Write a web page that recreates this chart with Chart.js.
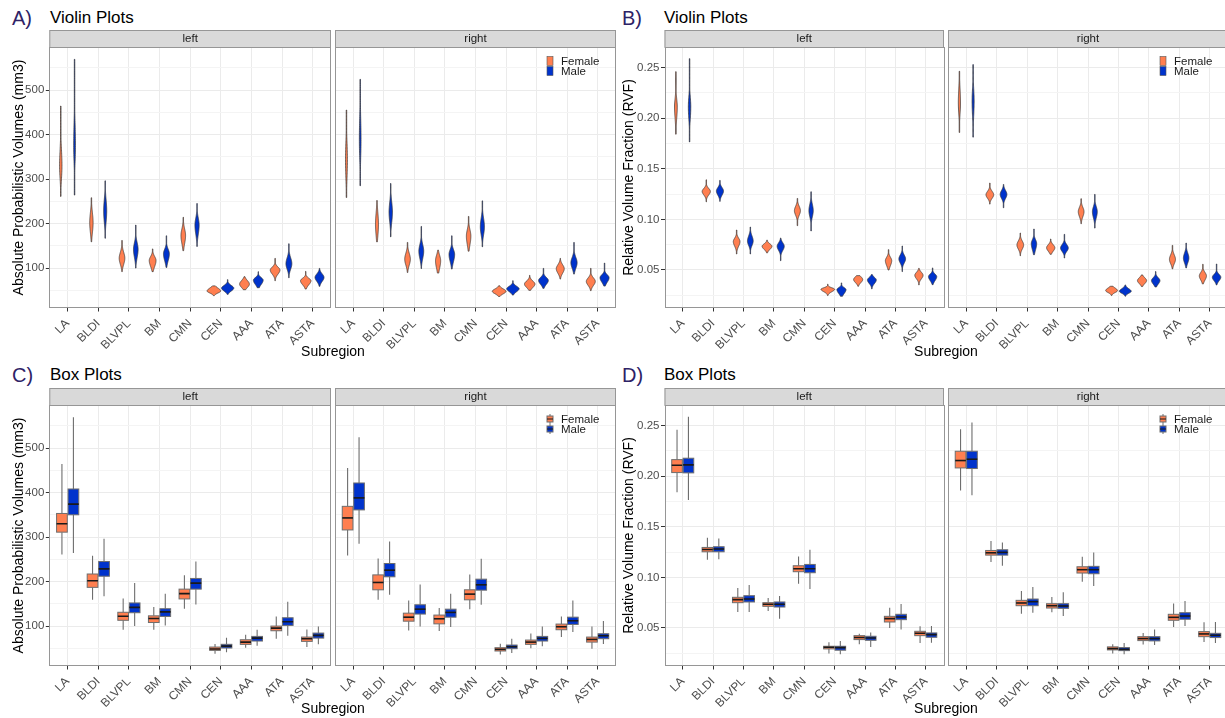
<!DOCTYPE html>
<html>
<head>
<meta charset="utf-8">
<script src="https://cdn.jsdelivr.net/npm/chart.js@4.4.1/dist/chart.umd.min.js"></script>
<style>
  html, body { margin: 0; padding: 0; background: #fff; overflow: hidden; }
  #wrap { position: relative; width: 1225px; height: 718px; overflow: hidden; font-family: 'Liberation Sans', Arial, Helvetica, sans-serif; }
  #wrap canvas { position: absolute; }
  .tag { position: absolute; font-size: 20px; color: #2e2266; line-height: 20px; }
  .ptitle { position: absolute; font-size: 17px; color: #000; line-height: 20px; }
  .xtitle { position: absolute; font-size: 14px; color: #000; line-height: 16px; width: 200px; text-align: center; }
</style>
</head>
<body>
<div id="wrap">
  <div class="tag" style="left:12px;top:8px">A)</div>
  <div class="ptitle" style="left:50px;top:8px">Violin Plots</div>
  <div class="tag" style="left:622px;top:8px">B)</div>
  <div class="ptitle" style="left:664px;top:8px">Violin Plots</div>
  <div class="tag" style="left:12px;top:365px">C)</div>
  <div class="ptitle" style="left:50px;top:365px">Box Plots</div>
  <div class="tag" style="left:622px;top:365px">D)</div>
  <div class="ptitle" style="left:664px;top:365px">Box Plots</div>

  <canvas id="aL"></canvas><canvas id="aR"></canvas>
  <canvas id="bL"></canvas><canvas id="bR"></canvas>
  <canvas id="cL"></canvas><canvas id="cR"></canvas>
  <canvas id="dL"></canvas><canvas id="dR"></canvas>

  <div class="xtitle" style="left:233px;top:343px">Subregion</div>
  <div class="xtitle" style="left:846px;top:343px">Subregion</div>
  <div class="xtitle" style="left:233px;top:700px">Subregion</div>
  <div class="xtitle" style="left:846px;top:700px">Subregion</div>
</div>
<script>
// ---- data ----
const subregions = ['LA', 'BLDI', 'BLVPL', 'BM', 'CMN', 'CEN', 'AAA', 'ATA', 'ASTA'];
const sexes = ['Female', 'Male'];

// one row per subregion: [min, q1, median, q3, max]
const absLeftFemale = [
  [261, 311, 330, 353, 464], [159, 187, 202, 217, 258], [92, 113, 122, 131, 162],
  [92, 108, 117, 123, 143], [139, 161, 173, 183, 214], [38, 45.4, 48.4, 52.9, 60],
  [51.4, 58.9, 64, 69.3, 80.6], [71.6, 89.5, 95.5, 100, 121.7], [52.9, 65.6, 71.6, 75.3, 92.5]
];
const absLeftMale = [
  [264, 350, 374, 408, 569], [167, 212, 228.6, 245, 296], [100, 130, 142, 152, 196.5],
  [101.5, 121.7, 132, 139, 172.5], [148.6, 183, 196.5, 207, 245], [41, 50.7, 55, 59, 74],
  [55.9, 66.4, 73, 76.8, 91.8], [78.3, 101.5, 109.7, 118.7, 154.6], [58.9, 73, 79, 84.3, 99.3]
];
const absRightFemale = [
  [258.5, 316, 343, 369, 455], [159, 181.5, 198, 215, 251.8], [90, 111, 120, 129, 157.6],
  [88.8, 105, 116.4, 124.7, 140.4], [138, 159, 171.8, 181.5, 216], [36.4, 44, 47.7, 51.4, 60.4],
  [50, 58.9, 64, 68.6, 83.6], [75.3, 91.8, 98.5, 104.5, 121.7], [49.2, 64, 70, 75.3, 99.3]
];
const absRightMale = [
  [285, 361, 388, 421.5, 524], [170.3, 210.7, 225.6, 240.6, 290], [99, 127, 138, 147.9, 193.5],
  [97.8, 120, 130.7, 138, 172.5], [147.9, 180.7, 192.7, 205.4, 251], [39.4, 49.2, 53.6, 57.4, 71.6],
  [54.4, 66.4, 72.3, 76.8, 99.3], [86.5, 103.7, 112, 120, 157.6], [59.6, 71.6, 78.3, 82.8, 111.2]
];

const rvfLeftFemale = [
  [0.1842, 0.2036, 0.2109, 0.2164, 0.246], [0.1174, 0.1253, 0.1276, 0.1296, 0.1391],
  [0.0658, 0.075, 0.078, 0.0803, 0.0895], [0.0668, 0.0714, 0.0734, 0.075, 0.0796],
  [0.0938, 0.1056, 0.1086, 0.1115, 0.1207], [0.0247, 0.0293, 0.0309, 0.0319, 0.0359],
  [0.0339, 0.0385, 0.0405, 0.0424, 0.0444], [0.05, 0.0559, 0.0592, 0.0615, 0.0701],
  [0.0352, 0.0424, 0.0447, 0.0467, 0.0516]
];
const rvfLeftMale = [
  [0.1766, 0.2033, 0.2112, 0.2178, 0.2589], [0.1178, 0.1253, 0.128, 0.1303, 0.1385],
  [0.0658, 0.0757, 0.0786, 0.0819, 0.0924], [0.0592, 0.0707, 0.0734, 0.0757, 0.0816],
  [0.0885, 0.1046, 0.1086, 0.1128, 0.1273], [0.024, 0.028, 0.0306, 0.0319, 0.0372],
  [0.0313, 0.0378, 0.0401, 0.0418, 0.0454], [0.0484, 0.0582, 0.0609, 0.0635, 0.0737],
  [0.0355, 0.0408, 0.0434, 0.0451, 0.052]
];
const rvfRightFemale = [
  [0.1859, 0.2082, 0.2155, 0.2247, 0.2464], [0.1151, 0.122, 0.1243, 0.1266, 0.1359],
  [0.0641, 0.072, 0.0747, 0.0773, 0.0865], [0.0655, 0.0697, 0.072, 0.074, 0.0806],
  [0.0957, 0.1043, 0.1076, 0.1105, 0.1204], [0.0247, 0.0283, 0.0296, 0.0313, 0.0339],
  [0.0336, 0.0375, 0.0395, 0.0414, 0.0451], [0.051, 0.0576, 0.0605, 0.0635, 0.0743],
  [0.0362, 0.0414, 0.0441, 0.0464, 0.0556]
];
const rvfRightMale = [
  [0.1813, 0.2076, 0.2168, 0.2247, 0.253], [0.1115, 0.122, 0.1247, 0.1273, 0.1345],
  [0.0651, 0.072, 0.076, 0.0786, 0.0905], [0.0618, 0.0694, 0.0717, 0.074, 0.0852],
  [0.0914, 0.1036, 0.1076, 0.1109, 0.1247], [0.024, 0.0276, 0.0289, 0.0306, 0.0352],
  [0.0332, 0.0372, 0.0395, 0.0414, 0.0484], [0.052, 0.0586, 0.0618, 0.0651, 0.0766],
  [0.0352, 0.0405, 0.0428, 0.0447, 0.0559]
];

const absMajor = [100, 200, 300, 400, 500];
const absMinor = [50, 150, 250, 350, 450, 550];
const rvfMajor = [0.05, 0.10, 0.15, 0.20, 0.25];
const rvfMinor = [0.025, 0.075, 0.125, 0.175, 0.225];

// ---- look ----
const FONT = "'Liberation Sans', Arial, Helvetica, sans-serif";
const COLORS = { Female: '#ff7f50', Male: '#0033cc' };
const FRAME = '#969696';

const measures = {
  abs: { range: [10.3, 596.7], major: absMajor, minor: absMinor, fmt: v => String(v),
         title: 'Absolute Probabilistic Volumes (mm3)' },
  rvf: { range: [0.0124, 0.2704], major: rvfMajor, minor: rvfMinor, fmt: v => v.toFixed(2),
         title: 'Relative Volume Fraction (RVF)' }
};

// relative density peak of a two-piece normal fitted to the quartiles
function peakOf(s) { return 1 / ((s[2] - s[1]) + (s[3] - s[2])); }
const maxPeak = {
  abs: Math.max(...[].concat(absLeftFemale, absLeftMale, absRightFemale, absRightMale).map(peakOf)),
  rvf: Math.max(...[].concat(rvfLeftFemale, rvfLeftMale, rvfRightFemale, rvfRightMale).map(peakOf))
};

function drawViolin(ctx, cx, s, y, unit, peak, color) {
  const [lo, q1, med, q3, hi] = s;
  const sdL = (med - q1) / 0.674, sdR = (q3 - med) / 0.674;
  const half = 0.225 * unit * peakOf(s) / peak;
  const pts = [];
  const n = 60;
  for (let k = 0; k <= n; k++) {
    const v = lo + (hi - lo) * k / n;
    const sd = v < med ? sdL : sdR;
    pts.push([y.getPixelForValue(v), Math.max(half * Math.exp(-0.5 * ((v - med) / sd) ** 2), 0.25)]);
  }
  ctx.beginPath();
  pts.forEach(([py, w], k) => k ? ctx.lineTo(cx + w, py) : ctx.moveTo(cx + w, py));
  for (let k = pts.length - 1; k >= 0; k--) ctx.lineTo(cx - pts[k][1], pts[k][0]);
  ctx.closePath();
  ctx.fillStyle = color;
  ctx.fill();
  ctx.strokeStyle = '#333';
  ctx.lineWidth = 0.7;
  ctx.stroke();
}

function drawBox(ctx, cx, s, y, unit, color) {
  const [lo, q1, med, q3, hi] = s;
  const hw = 0.175 * unit;
  ctx.strokeStyle = '#6e6e6e';
  ctx.lineWidth = 1.1;
  ctx.beginPath();
  ctx.moveTo(cx, y.getPixelForValue(hi)); ctx.lineTo(cx, y.getPixelForValue(q3));
  ctx.moveTo(cx, y.getPixelForValue(q1)); ctx.lineTo(cx, y.getPixelForValue(lo));
  ctx.stroke();
  const top = y.getPixelForValue(q3), bot = y.getPixelForValue(q1);
  ctx.fillStyle = color;
  ctx.fillRect(cx - hw, top, hw * 2, bot - top);
  ctx.strokeStyle = '#6e6e6e';
  ctx.lineWidth = 1;
  ctx.strokeRect(cx - hw, top, hw * 2, bot - top);
  ctx.strokeStyle = '#1a1a1a';
  ctx.lineWidth = 1.6;
  ctx.beginPath();
  ctx.moveTo(cx - hw, y.getPixelForValue(med)); ctx.lineTo(cx + hw, y.getPixelForValue(med));
  ctx.stroke();
}

function drawLegend(ctx, a, kind, datasets) {
  datasets.forEach((ds, i) => {
    const cy = a.top + 14 + i * 10;
    const kx = a.left + 212;
    if (kind === 'violin') {
      ctx.fillStyle = ds.color;
      ctx.fillRect(kx, cy - 4.5, 6, 9);
      ctx.strokeStyle = '#555'; ctx.lineWidth = 0.6;
      ctx.strokeRect(kx, cy - 4.5, 6, 9);
    } else {
      ctx.strokeStyle = '#6e6e6e'; ctx.lineWidth = 1;
      ctx.beginPath(); ctx.moveTo(kx + 3, cy - 5); ctx.lineTo(kx + 3, cy + 5); ctx.stroke();
      ctx.fillStyle = ds.color;
      ctx.fillRect(kx, cy - 3, 6, 6);
      ctx.strokeStyle = '#6e6e6e'; ctx.strokeRect(kx, cy - 3, 6, 6);
      ctx.strokeStyle = '#1a1a1a';
      ctx.beginPath(); ctx.moveTo(kx, cy); ctx.lineTo(kx + 6, cy); ctx.stroke();
    }
    ctx.fillStyle = '#1a1a1a';
    ctx.font = '11.5px ' + FONT;
    ctx.textAlign = 'left';
    ctx.textBaseline = 'middle';
    ctx.fillText(ds.label, a.left + 226, cy + 0.5);
  });
}

const facetPlugin = {
  id: 'facet',
  beforeDraw(chart, args, opts) {
    const { ctx, chartArea: a } = chart;
    ctx.save();
    ctx.fillStyle = '#d9d9d9';
    ctx.fillRect(a.left, a.top - 17, a.right - a.left, 17);
    ctx.strokeStyle = FRAME;
    ctx.lineWidth = 1;
    ctx.strokeRect(a.left + 0.5, a.top - 16.5, a.right - a.left - 1, 17);
    ctx.fillStyle = '#1a1a1a';
    ctx.font = '11.5px ' + FONT;
    ctx.textAlign = 'center';
    ctx.textBaseline = 'middle';
    ctx.fillText(opts.strip, (a.left + a.right) / 2, a.top - 8);
    ctx.restore();
  },
  afterDatasetsDraw(chart, args, opts) {
    const { ctx, chartArea: a } = chart;
    const x = chart.scales.x, y = chart.scales.y;
    const unit = x.getPixelForValue(1) - x.getPixelForValue(0);
    ctx.save();
    ctx.beginPath();
    ctx.rect(a.left, a.top, a.right - a.left, a.bottom - a.top);
    ctx.clip();
    chart.data.datasets.forEach(ds => {
      const off = opts.kind === 'violin' ? ds.dodge * 0.225 : ds.dodge * 0.1875;
      ds.stats.forEach((s, i) => {
        const cx = x.getPixelForValue(i + off);
        if (opts.kind === 'violin') drawViolin(ctx, cx, s, y, unit, opts.peak, ds.color);
        else drawBox(ctx, cx, s, y, unit, ds.color);
      });
    });
    ctx.restore();
    ctx.save();
    ctx.strokeStyle = FRAME;
    ctx.lineWidth = 1;
    ctx.strokeRect(Math.round(a.left) + 0.5, Math.round(a.top) + 0.5,
      Math.round(a.right - a.left) - 1, Math.round(a.bottom - a.top) - 1);
    if (opts.legend) drawLegend(ctx, a, opts.kind, chart.data.datasets);
    ctx.restore();
  }
};

// geometry of each facet: canvas left/top, plot left/right, y-axis width
function facet(id, o) {
  const m = measures[o.measure];
  const canvas = document.getElementById(id);
  const canvasLeft = o.showY ? o.plotLeft - o.yWidth : o.plotLeft;
  canvas.width = Math.ceil(o.plotRight - canvasLeft + 2);
  canvas.height = 330;
  canvas.style.left = canvasLeft + 'px';
  canvas.style.top = o.top + 'px';

  const yTicks = m.major.map(v => ({ value: v, major: true }))
    .concat(m.minor.map(v => ({ value: v, major: false })))
    .sort((p, q) => p.value - q.value);

  new Chart(canvas, {
    type: 'scatter',
    data: {
      datasets: [
        { label: sexes[0], stats: o.female, color: COLORS.Female, dodge: -1, data: [] },
        { label: sexes[1], stats: o.male, color: COLORS.Male, dodge: 1, data: [] }
      ]
    },
    options: {
      responsive: false,
      animation: false,
      devicePixelRatio: 1,
      layout: { padding: { top: 17, right: 2, left: 0, bottom: 0 } },
      plugins: {
        legend: { display: false },
        tooltip: { enabled: false },
        facet: { strip: o.strip, kind: o.kind, peak: maxPeak[o.measure], legend: !o.showY }
      },
      scales: {
        x: {
          type: 'linear',
          min: -0.6, max: subregions.length - 0.4,
          afterBuildTicks: s => { s.ticks = subregions.map((_, i) => ({ value: i })); },
          afterFit: s => { s.height = 52; },
          border: { display: false },
          grid: { color: '#ebebeb', lineWidth: 1, tickColor: '#333', tickLength: 3.5 },
          ticks: {
            autoSkip: false, minRotation: 45, maxRotation: 45, padding: 5,
            color: '#4d4d4d', font: { family: FONT, size: 12 },
            callback: (v, i) => subregions[i]
          }
        },
        y: {
          type: 'linear',
          min: m.range[0], max: m.range[1],
          afterBuildTicks: s => { s.ticks = yTicks.map(t => ({ ...t })); },
          afterFit: s => { s.width = o.showY ? o.yWidth : 0; },
          border: { display: false },
          grid: {
            color: c => c.tick && c.tick.major ? '#ebebeb' : '#f4f4f4',
            lineWidth: 1,
            drawTicks: o.showY,
            tickLength: 3.5,
            tickColor: c => c.tick && c.tick.major ? '#333' : 'rgba(0,0,0,0)'
          },
          ticks: {
            display: o.showY, autoSkip: false, padding: 1.5,
            color: '#4d4d4d', font: { family: FONT, size: 11.5 },
            callback: (v, i, ticks) => ticks[i].major ? m.fmt(v) : ''
          },
          title: {
            display: o.showY, text: m.title, color: '#000',
            font: { family: FONT, size: 14 }, padding: { top: 10.4, bottom: 0 }
          }
        }
      }
    },
    plugins: [facetPlugin]
  });
}

facet('aL', { measure: 'abs', kind: 'violin', strip: 'left', female: absLeftFemale, male: absLeftMale,
  showY: true, yWidth: 49.3, plotLeft: 49.3, plotRight: 331, top: 30 });
facet('aR', { measure: 'abs', kind: 'violin', strip: 'right', female: absRightFemale, male: absRightMale,
  showY: false, plotLeft: 335, plotRight: 616, top: 30 });
facet('bL', { measure: 'rvf', kind: 'violin', strip: 'left', female: rvfLeftFemale, male: rvfLeftMale,
  showY: true, yWidth: 54.5, plotLeft: 664.5, plotRight: 944, top: 30 });
facet('bR', { measure: 'rvf', kind: 'violin', strip: 'right', female: rvfRightFemale, male: rvfRightMale,
  showY: false, plotLeft: 948.3, plotRight: 1227.7, top: 30 });
facet('cL', { measure: 'abs', kind: 'box', strip: 'left', female: absLeftFemale, male: absLeftMale,
  showY: true, yWidth: 49.3, plotLeft: 49.3, plotRight: 331, top: 388 });
facet('cR', { measure: 'abs', kind: 'box', strip: 'right', female: absRightFemale, male: absRightMale,
  showY: false, plotLeft: 335, plotRight: 616, top: 388 });
facet('dL', { measure: 'rvf', kind: 'box', strip: 'left', female: rvfLeftFemale, male: rvfLeftMale,
  showY: true, yWidth: 54.5, plotLeft: 664.5, plotRight: 944, top: 388 });
facet('dR', { measure: 'rvf', kind: 'box', strip: 'right', female: rvfRightFemale, male: rvfRightMale,
  showY: false, plotLeft: 948.3, plotRight: 1227.7, top: 388 });
</script>
</body>
</html>
